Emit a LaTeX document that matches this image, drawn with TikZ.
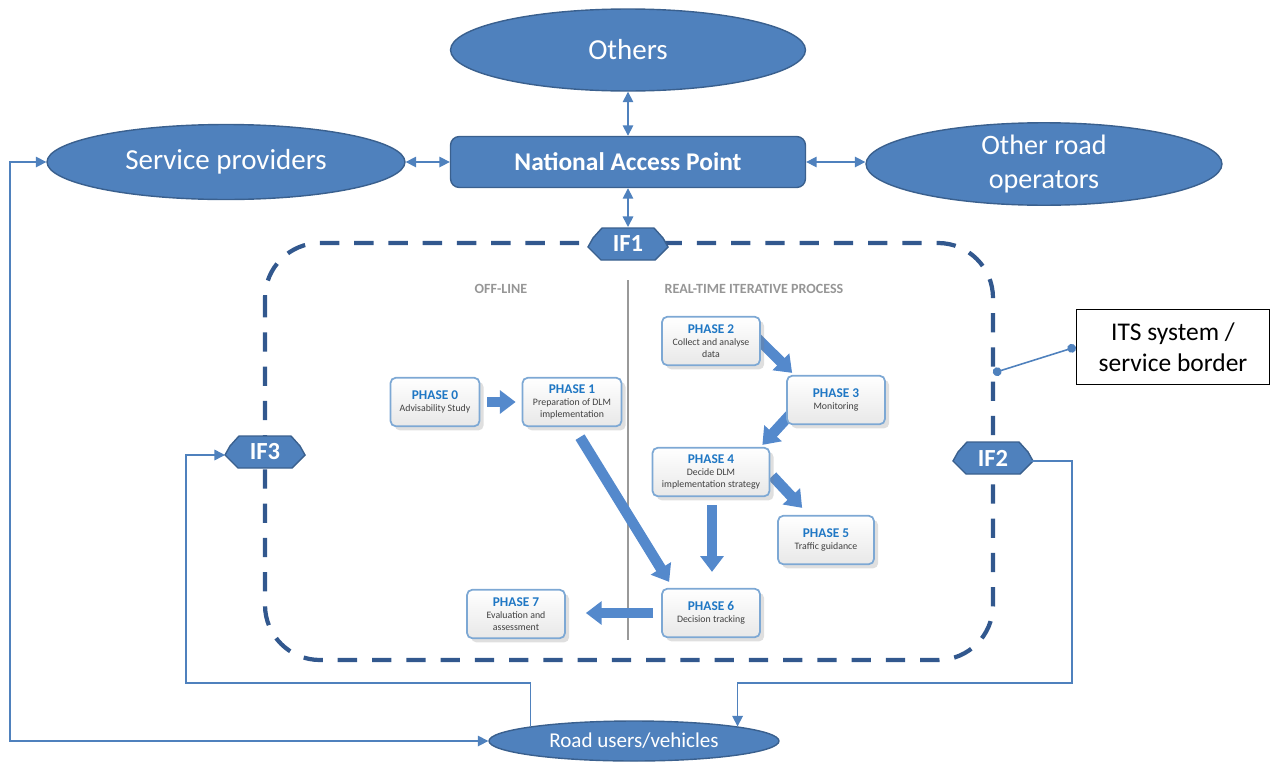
\documentclass[tikz,border=0pt]{standalone}
\usepackage{fontspec}
\setmainfont{Carlito}
\usetikzlibrary{arrows.meta,shapes.geometric,shadows,backgrounds}

\definecolor{nodeblue}{RGB}{79,129,189}
\definecolor{edgeblue}{RGB}{58,96,142}
\definecolor{borderblue}{RGB}{50,88,142}
\definecolor{flowblue}{RGB}{84,137,204}
\definecolor{phaseblue}{RGB}{31,119,196}
\definecolor{phaseedge}{RGB}{125,168,212}
\definecolor{headgray}{RGB}{150,150,150}

\newcommand{\phasehead}[1]{{\color{phaseblue}\bfseries\fontsize{7.6}{9}\selectfont #1}}

\tikzset{
  actor/.style={ellipse, draw=edgeblue, fill=nodeblue, line width=0.8pt,
    text=white, align=center, inner sep=0pt},
  access/.style={rectangle, rounded corners=5pt, draw=edgeblue, fill=nodeblue,
    line width=0.8pt, text=white, minimum width=7.1cm, minimum height=1.02cm,
    font=\fontsize{14.5}{17}\selectfont\bfseries},
  % interface badge: flattened polygon drawn inside the node box
  iface/.style={rectangle, inner sep=0pt, minimum width=1.66cm,
    minimum height=0.74cm, text=white, font=\fontsize{14}{16}\selectfont\bfseries,
    path picture={
      \draw[draw=edgeblue, fill=nodeblue, line width=0.8pt]
        ([shift={(-26,-16)}]path picture bounding box.center)
        -- ([shift={(26,-16)}]path picture bounding box.center)
        -- ([shift={(35,-6)}]path picture bounding box.center)
        -- ([shift={(40,3)}]path picture bounding box.center)
        -- ([shift={(27,16)}]path picture bounding box.center)
        -- ([shift={(-27,16)}]path picture bounding box.center)
        -- ([shift={(-40,3)}]path picture bounding box.center)
        -- ([shift={(-35,-6)}]path picture bounding box.center)
        -- cycle;}},
  border/.style={draw=borderblue, line width=2.4pt, dash pattern=on 11pt off 8.5pt,
    rounded corners=1.1cm},
  divider/.style={draw=gray!80, line width=1.2pt},
  header/.style={text=headgray, font=\fontsize{8}{9}\selectfont\bfseries},
  phasebox/.style={rectangle, rounded corners=3pt, draw=phaseedge, line width=1pt,
    top color=white, bottom color=black!9, drop shadow={opacity=0.25},
    align=center, inner sep=1pt, minimum height=0.97cm,
    text=black!75, font=\fontsize{5.6}{6.9}\selectfont},
  flow/.style={draw=flowblue, line width=6pt,
    -{Triangle[length=9pt,width=13pt]}},
  note/.style={rectangle, draw=black, line width=0.8pt, align=center,
    minimum width=3.86cm, minimum height=1.5cm,
    font=\fontsize{14.5}{17.6}\selectfont},
  link/.style={draw=nodeblue, line width=0.9pt},
}

\begin{document}
\begin{tikzpicture}[x=0.02cm, y=-0.02cm, >={Triangle[length=6pt,width=6pt]}]
\useasboundingbox (0,0) rectangle (1271,761);

%% outside actors
\node (others) at (628,50) [actor, minimum width=7.1cm, minimum height=1.64cm,
  font=\fontsize{16.5}{19}\selectfont] {Others};
\node (sp) at (226,162) [actor, minimum width=7.16cm, minimum height=1.5cm,
  font=\fontsize{16.5}{19}\selectfont] {Service providers};
\node (nap) at (628,162) [access] {National Access Point};
\node (oro) at (1044,164) [actor, minimum width=7.12cm, minimum height=1.56cm,
  font=\fontsize{16}{19.5}\selectfont] {Other road\\operators};
\node (road) at (634,741) [actor, minimum width=5.8cm, minimum height=0.8cm,
  font=\fontsize{12}{14}\selectfont] {Road users/vehicles};

%% system border
\draw[border] (265,243) rectangle (993,660);
\node (ifone) at (628,244) [iface] {IF1};
\node (iftwo) at (993,458) [iface] {IF2};
\node (ifthree) at (265,452) [iface] {IF3};

\node (offline) at (501,289) [header] {OFF-LINE};
\node (realtime) at (754,289) [header] {REAL-TIME ITERATIVE PROCESS};

%% phases
\node (p0) at (435,402) [phasebox, minimum width=1.78cm] {\phasehead{PHASE 0}\\Advisability Study};
\node (p1) at (572,402) [phasebox, minimum width=1.98cm] {\phasehead{PHASE 1}\\Preparation of DLM\\implementation};
\node (p2) at (711,341) [phasebox, minimum width=1.96cm] {\phasehead{PHASE 2}\\Collect and analyse\\data};
\node (p3) at (836,400) [phasebox, minimum width=1.96cm] {\phasehead{PHASE 3}\\Monitoring};
\node (p4) at (711,472) [phasebox, minimum width=2.34cm] {\phasehead{PHASE 4}\\Decide DLM\\implementation strategy};
\node (p5) at (826,540) [phasebox, minimum width=1.92cm] {\phasehead{PHASE 5}\\Traffic guidance};
\node (p6) at (711,613) [phasebox, minimum width=1.96cm] {\phasehead{PHASE 6}\\Decision tracking};
\node (p7) at (516,614) [phasebox, minimum width=1.96cm] {\phasehead{PHASE 7}\\Evaluation and\\assessment};

\coordinate (divtop) at (628,280);
\coordinate (divbot) at (628,640);
\begin{scope}[on background layer]
  \draw[divider] (divtop) -- (divbot);
  \draw[flow] ([shift={(7,0)}]p0.east) -- ([shift={(-6,0)}]p1.west);
  \draw[flow] ([shift={(8,10)}]p1.south) -- ([shift={(8,-6)}]p6.north west);
  \draw[flow] ([shift={(-4,-3)}]p2.east) -- ([shift={(6,-2)}]p3.north west);
  \draw[flow] ([shift={(10,8)}]p3.west) -- ([shift={(-8,-2)}]p4.north east);
  \draw[flow] ([shift={(2,4)}]p4.east) -- ([shift={(25,-7)}]p5.north west);
  \draw[flow] ([shift={(1,8)}]p4.south) -- ([shift={(1,-16)}]p6.north);
  \draw[flow] ([shift={(-8,0)}]p6.west) -- ([shift={(20,-1)}]p7.east);
\end{scope}

%% exchange with the access point
\draw[link, <->] (others) -- (nap);
\draw[link, <->] (sp) -- (nap);
\draw[link, <->] (nap.east) -- (nap.east -| oro.west);
\draw[link, <->] (nap) -- ([shift={(0,-17)}]ifone.center);

%% loops to road users
\coordinate (turnthree) at (186,683);
\coordinate (turntwo) at (1072,683);
\coordinate (farleft) at (10,741);
\draw[link, ->] (road.172) |- (turnthree) |- ([shift={(-40,3)}]ifthree.center);
\draw[link, ->] ([shift={(38,3)}]iftwo.center) -| (turntwo) -| (road.8);
\draw[link, <->] (sp.west) -| (farleft) -- (road.west);

%% border note
\node (its) at (1173,347) [note] {ITS system /\\service border};
\coordinate (borderpt) at (993,373);
\draw[link, {Circle[length=5pt]}-{Circle[length=5pt]}] (borderpt) -- (its.west);
%
\end{tikzpicture}
\end{document}
